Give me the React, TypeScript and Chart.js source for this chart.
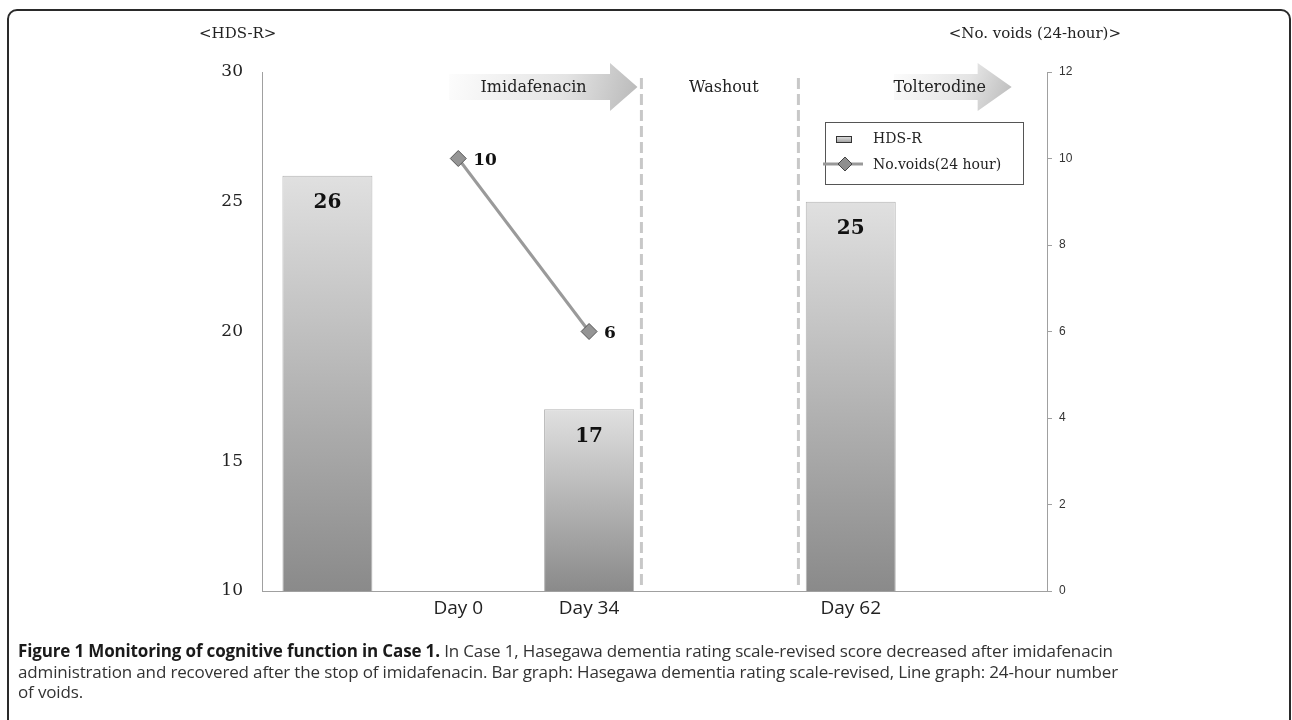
import React, { useEffect, useRef } from "react";
import { Chart, registerables } from "chart.js";

Chart.register(...registerables);

const categories = ["", "Day 0", "Day 34", "", "Day 62", ""];
const hdsrValues = [26, null, 17, null, 25, null];
const voidsValues = [null, 10, 6, null, null, null];
const leftTicks = { min: 10, max: 30, step: 5 };
const rightTicks = { min: 0, max: 12, step: 2 };
const phaseLines = [2.4, 3.6];

const SERIF = "'DejaVu Serif', serif";

const decorPlugin = {
  id: "decor",
  beforeDatasetsDraw(chart: any) {
    const { ctx, chartArea, scales } = chart;
    const x = scales.x;
    ctx.save();
    const drawArrow = (x0: number, xb: number, xt: number, cy: number, label: string) => {
      const bh = 13, hh = 24;
      const g = ctx.createLinearGradient(x0, cy - hh, xt, cy + hh);
      g.addColorStop(0, "#fdfdfd");
      g.addColorStop(0.6, "#e4e4e4");
      g.addColorStop(1, "#b8b8b8");
      ctx.fillStyle = g;
      ctx.beginPath();
      ctx.moveTo(x0, cy - bh);
      ctx.lineTo(xb, cy - bh);
      ctx.lineTo(xb, cy - hh);
      ctx.lineTo(xt, cy);
      ctx.lineTo(xb, cy + hh);
      ctx.lineTo(xb, cy + bh);
      ctx.lineTo(x0, cy + bh);
      ctx.closePath();
      ctx.fill();
      ctx.fillStyle = "#222";
      ctx.font = `16px ${SERIF}`;
      ctx.textAlign = "center";
      ctx.textBaseline = "middle";
      ctx.fillText(label, (x0 + xb) / 2 + 4, cy + 1);
    };
    const cy = chartArea.top + 15;
    drawArrow(x.getPixelForValue(0.93), x.getPixelForValue(2.16), x.getPixelForValue(2.37), cy, "Imidafenacin");
    drawArrow(x.getPixelForValue(4.33), x.getPixelForValue(4.97), x.getPixelForValue(5.23), cy, "Tolterodine");
    ctx.fillStyle = "#222";
    ctx.font = `16px ${SERIF}`;
    ctx.textAlign = "center";
    ctx.textBaseline = "middle";
    ctx.fillText("Washout", x.getPixelForValue(3.03), cy + 1);
    ctx.strokeStyle = "#c8c8c8";
    ctx.lineWidth = 3;
    ctx.setLineDash([11, 5]);
    phaseLines.forEach((v) => {
      const px = x.getPixelForValue(v);
      ctx.beginPath();
      ctx.moveTo(px, chartArea.top + 6);
      ctx.lineTo(px, chartArea.bottom - 4);
      ctx.stroke();
    });
    ctx.restore();
  },
  afterDatasetsDraw(chart: any) {
    const { ctx, chartArea } = chart;
    ctx.save();
    const barMeta = chart.getDatasetMeta(0);
    ctx.fillStyle = "#111";
    ctx.font = `bold 20px ${SERIF}`;
    ctx.textAlign = "center";
    ctx.textBaseline = "middle";
    barMeta.data.forEach((el: any, i: number) => {
      const v = hdsrValues[i];
      if (v == null) return;
      ctx.fillText(String(v), el.x, el.y + 27);
    });
    const lineMeta = chart.getDatasetMeta(1);
    ctx.font = `bold 17px ${SERIF}`;
    ctx.textAlign = "left";
    lineMeta.data.forEach((el: any, i: number) => {
      const v = voidsValues[i];
      if (v == null) return;
      ctx.fillText(String(v), el.x + 15, el.y + 2);
    });
    // axis titles
    ctx.fillStyle = "#222";
    ctx.font = `15px ${SERIF}`;
    ctx.textAlign = "left";
    ctx.textBaseline = "middle";
    ctx.fillText("<HDS-R>", 199, 34);
    ctx.textAlign = "right";
    ctx.fillText("<No. voids (24-hour)>", 1121, 34);
    // legend
    const lx = chartArea.right - 222, ly = chartArea.top + 50, lw = 198, lh = 62;
    ctx.fillStyle = "#fff";
    ctx.fillRect(lx, ly, lw, lh);
    ctx.strokeStyle = "#555";
    ctx.lineWidth = 1;
    ctx.strokeRect(lx + 0.5, ly + 0.5, lw, lh);
    const rg = ctx.createLinearGradient(0, ly + 14, 0, ly + 21);
    rg.addColorStop(0, "#e6e6e6");
    rg.addColorStop(1, "#9a9a9a");
    ctx.fillStyle = rg;
    ctx.fillRect(lx + 11, ly + 14, 16, 7);
    ctx.strokeStyle = "#333";
    ctx.strokeRect(lx + 11.5, ly + 14.5, 15, 6);
    ctx.strokeStyle = "#999";
    ctx.lineWidth = 3;
    ctx.beginPath();
    ctx.moveTo(lx - 2, ly + 42);
    ctx.lineTo(lx + 38, ly + 42);
    ctx.stroke();
    ctx.fillStyle = "#8e8e8e";
    ctx.strokeStyle = "#444";
    ctx.lineWidth = 1;
    ctx.beginPath();
    ctx.moveTo(lx + 20, ly + 35);
    ctx.lineTo(lx + 27, ly + 42);
    ctx.lineTo(lx + 20, ly + 49);
    ctx.lineTo(lx + 13, ly + 42);
    ctx.closePath();
    ctx.fill();
    ctx.stroke();
    ctx.fillStyle = "#222";
    ctx.font = `14px ${SERIF}`;
    ctx.textAlign = "left";
    ctx.textBaseline = "middle";
    ctx.fillText("HDS-R", lx + 48, ly + 17);
    ctx.fillText("No.voids(24 hour)", lx + 48, ly + 43);
    ctx.restore();
  },
};

export default function App() {
  const ref = useRef<HTMLCanvasElement | null>(null);
  useEffect(() => {
    if (!ref.current) return;
    const chart = new Chart(ref.current, {
      type: "bar",
      data: {
        labels: categories,
        datasets: [
          {
            type: "bar",
            label: "HDS-R",
            data: hdsrValues as any,
            yAxisID: "y",
            categoryPercentage: 1,
            barPercentage: 0.688,
            borderColor: "#b4b4b4",
            borderWidth: 1,
            backgroundColor: (c: any) => {
              const chart = c.chart;
              const { ctx, chartArea, scales } = chart;
              if (!chartArea || c.raw == null || !scales.y) return "#b0b0b0";
              const top = scales.y.getPixelForValue(c.raw);
              const g = ctx.createLinearGradient(0, top, 0, chartArea.bottom);
              g.addColorStop(0, "#e0e0e0");
              g.addColorStop(1, "#8a8a8a");
              return g;
            },
          } as any,
          {
            type: "line",
            label: "No.voids(24 hour)",
            data: voidsValues as any,
            yAxisID: "y1",
            borderColor: "#9a9a9a",
            borderWidth: 3,
            pointStyle: "rectRot",
            pointRadius: 8,
            pointBackgroundColor: "#959595",
            pointBorderColor: "#555",
            pointBorderWidth: 1,
            spanGaps: false,
          } as any,
        ],
      },
      options: {
        responsive: false,
        animation: false,
        layout: { padding: { top: 72, left: 0, right: 0, bottom: 10 } },
        plugins: { legend: { display: false }, tooltip: { enabled: false } },
        scales: {
          x: {
            grid: { display: false, drawTicks: false },
            border: { color: "#a0a0a0", width: 1 },
            ticks: { color: "#222", font: { family: "'Open Sans'", size: 19 }, padding: 6, maxRotation: 0 },
            afterFit: (s: any) => { s.height = 39; },
          },
          y: {
            position: "left",
            min: leftTicks.min,
            max: leftTicks.max,
            grid: { display: false, drawTicks: false },
            border: { color: "#a0a0a0", width: 1 },
            ticks: { stepSize: leftTicks.step, color: "#222", font: { family: "'DejaVu Serif'", size: 17 }, padding: 19 },
            afterFit: (s: any) => { s.width = 262; },
          },
          y1: {
            position: "right",
            min: rightTicks.min,
            max: rightTicks.max,
            grid: { display: true, drawOnChartArea: false, drawTicks: true, tickLength: 5, color: "#a0a0a0" },
            border: { color: "#a0a0a0", width: 1 },
            ticks: { stepSize: rightTicks.step, color: "#333", font: { family: "'Liberation Sans'", size: 12 }, padding: 7 },
            afterFit: (s: any) => { s.width = 245; },
          },
        },
      },
      plugins: [decorPlugin],
    });
    return () => chart.destroy();
  }, []);

  return (
    <div style={{ position: "absolute", left: 0, top: 0, width: 1292, height: 720, overflow: "hidden", background: "#fff" }}>
      <div
        style={{
          position: "absolute",
          left: 7,
          top: 9,
          width: 1284,
          height: 900,
          boxSizing: "border-box",
          border: "2px solid #2a2a2a",
          borderRadius: 10,
        }}
      />
      <canvas ref={ref} width={1292} height={640} style={{ position: "absolute", left: 0, top: 0, width: 1292, height: 640 }} />
      <div
        style={{
          position: "absolute",
          left: 18,
          top: 641,
          whiteSpace: "nowrap",
          fontFamily: "'Open Sans', sans-serif",
          fontSize: 17,
          lineHeight: "20.5px",
          color: "#333",
          letterSpacing: "-0.15px",
        }}
      >
        <span style={{ fontWeight: 700, color: "#1a1a1a" }}>Figure 1 Monitoring of cognitive function in Case 1.</span> In Case 1, Hasegawa dementia rating scale-revised score decreased after imidafenacin
        <br />
        administration and recovered after the stop of imidafenacin. Bar graph: Hasegawa dementia rating scale-revised, Line graph: 24-hour number
        <br />
        of voids.
      </div>
    </div>
  );
}
